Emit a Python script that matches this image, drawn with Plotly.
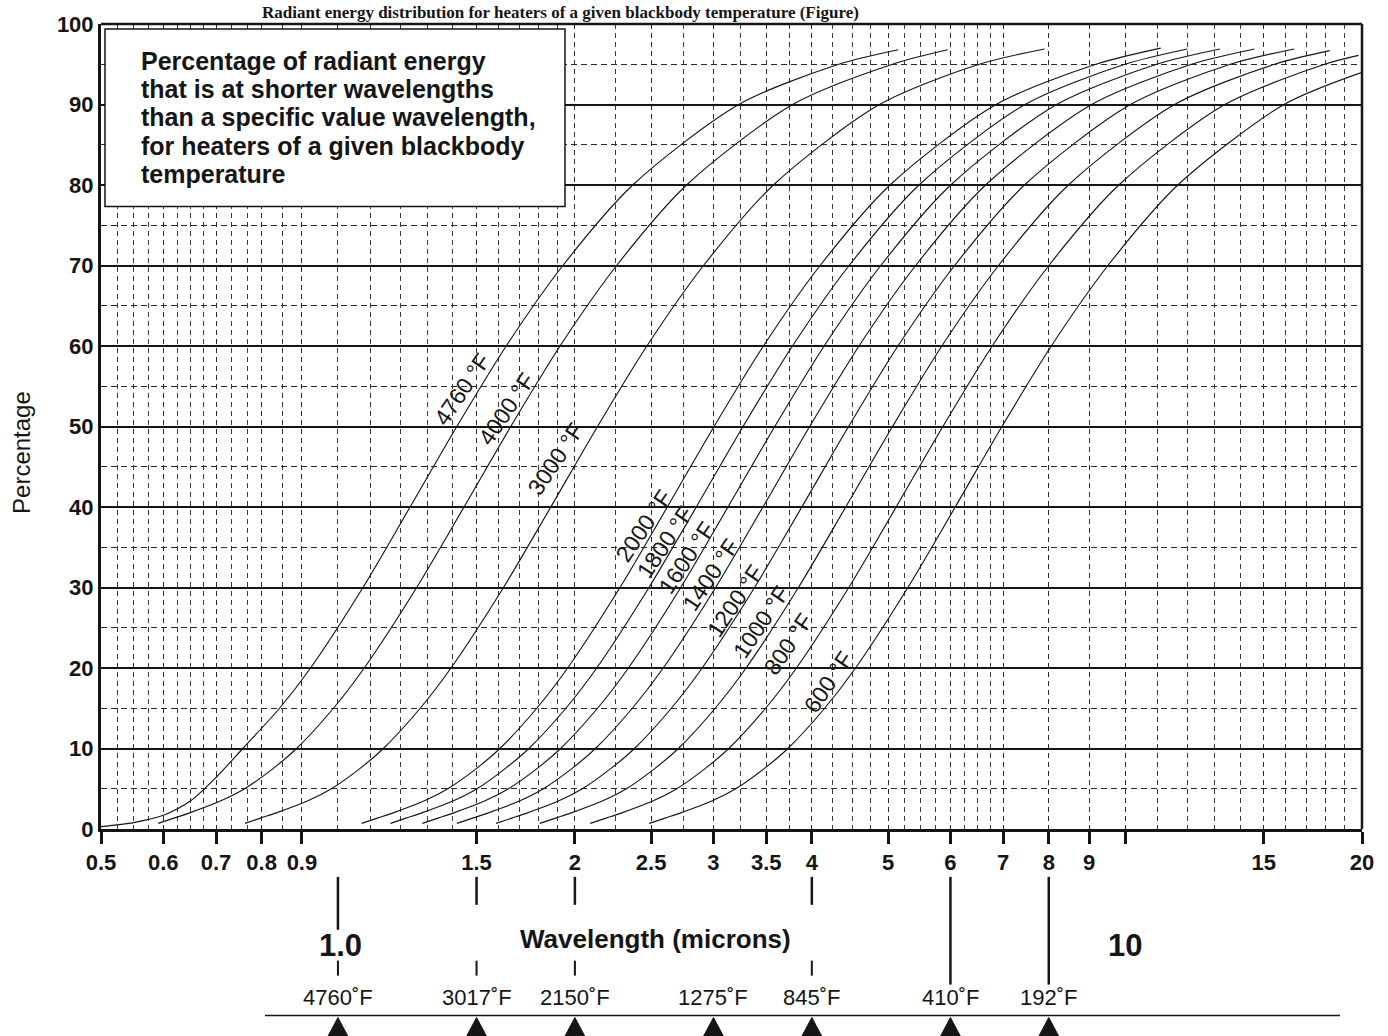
import math
import plotly.graph_objects as go

# ---------------- data ----------------
TEMPS = ["4760", "4000", "3000", "2000", "1800", "1600", "1400", "1200", "1000", "800", "600"]

PCT_4760 = [0.3, 0.8, 1.7, 3.5, 6.4, 10, 15, 20, 30, 40, 50, 60, 70, 80, 90, 95, 96.8]
WL_4760 = [0.50, 0.55, 0.60, 0.65, 0.70, 0.757, 0.843, 0.923, 1.076, 1.235, 1.416, 1.636, 1.931, 2.369, 3.231, 4.328, 5.15]

PCT_4000 = [0.7, 1.35, 2, 3.5, 5, 7.5, 10, 15, 20, 30, 40, 50, 60, 70, 80, 90, 95, 96.8]
WL_4000 = [0.591, 0.619, 0.648, 0.710, 0.761, 0.827, 0.886, 0.987, 1.080, 1.259, 1.446, 1.658, 1.915, 2.260, 2.773, 3.782, 5.065, 5.95]

PCT_3000 = [0.7, 1.35, 2, 3.5, 5, 7.5, 10, 15, 20, 30, 40, 50, 60, 70, 80, 90, 95, 96.9]
WL_3000 = [0.762, 0.797, 0.835, 0.916, 0.981, 1.066, 1.142, 1.272, 1.392, 1.623, 1.864, 2.137, 2.469, 2.914, 3.575, 4.875, 6.530, 7.9]

PCT_2000 = [0.7, 1.35, 2, 3.5, 5, 7.5, 10, 15, 20, 30, 40, 50, 60, 70, 80, 90, 95, 97.0]
WL_2000 = [1.072, 1.122, 1.175, 1.288, 1.379, 1.499, 1.606, 1.789, 1.958, 2.282, 2.621, 3.005, 3.472, 4.098, 5.028, 6.857, 9.184, 11.1]

PCT_1800 = [0.7, 1.35, 2, 3.5, 5, 7.5, 10, 15, 20, 30, 40, 50, 60, 70, 80, 90, 95, 96.9]
WL_1800 = [1.166, 1.220, 1.278, 1.402, 1.502, 1.631, 1.748, 1.948, 2.132, 2.484, 2.853, 3.271, 3.780, 4.461, 5.473, 7.464, 9.997, 12.0]

PCT_1600 = [0.7, 1.35, 2, 3.5, 5, 7.5, 10, 15, 20, 30, 40, 50, 60, 70, 80, 90, 95, 96.9]
WL_1600 = [1.280, 1.340, 1.403, 1.538, 1.647, 1.790, 1.918, 2.137, 2.339, 2.726, 3.130, 3.589, 4.147, 4.894, 6.005, 8.188, 10.97, 13.2]

PCT_1400 = [0.7, 1.35, 2, 3.5, 5, 7.5, 10, 15, 20, 30, 40, 50, 60, 70, 80, 90, 95, 96.9]
WL_1400 = [1.416, 1.483, 1.553, 1.703, 1.824, 1.982, 2.124, 2.366, 2.590, 3.019, 3.467, 3.975, 4.592, 5.420, 6.650, 9.069, 12.15, 14.6]

PCT_1200 = [0.7, 1.35, 2, 3.5, 5, 7.5, 10, 15, 20, 30, 40, 50, 60, 70, 80, 90, 95, 96.9]
WL_1200 = [1.588, 1.663, 1.741, 1.909, 2.044, 2.221, 2.381, 2.652, 2.902, 3.383, 3.885, 4.454, 5.146, 6.074, 7.452, 10.16, 13.61, 16.4]

PCT_1000 = [0.7, 1.35, 2, 3.5, 5, 7.5, 10, 15, 20, 30, 40, 50, 60, 70, 80, 90, 95, 96.7]
WL_1000 = [1.805, 1.890, 1.979, 2.170, 2.325, 2.526, 2.707, 3.015, 3.300, 3.846, 4.417, 5.065, 5.851, 6.906, 8.473, 11.56, 15.48, 18.2]

PCT_800 = [0.7, 1.35, 2, 3.5, 5, 7.5, 10, 15, 20, 30, 40, 50, 60, 70, 80, 90, 95, 96.1]
WL_800 = [2.092, 2.191, 2.294, 2.515, 2.694, 2.927, 3.137, 3.494, 3.824, 4.457, 5.119, 5.869, 6.781, 8.002, 9.819, 13.39, 17.93, 19.8]

PCT_600 = [0.7, 1.35, 2, 3.5, 5, 7.5, 10, 15, 20, 30, 40, 50, 60, 70, 80, 90, 94.0]
WL_600 = [2.486, 2.603, 2.726, 2.990, 3.202, 3.479, 3.729, 4.153, 4.546, 5.298, 6.085, 6.976, 8.060, 9.512, 11.67, 15.92, 20.0]

# curve label positions (wavelength, percent)
LABEL_WL = [1.44, 1.637, 1.89, 2.444, 2.606, 2.771, 2.973, 3.197, 3.45, 3.734, 4.197]
LABEL_PCT = [54.6, 52.2, 46.0, 37.7, 35.6, 33.7, 31.6, 28.3, 25.7, 23.0, 18.3]

# axis ticks
X_TICKS = [0.5, 0.6, 0.7, 0.8, 0.9, 1.5, 2, 2.5, 3, 3.5, 4, 5, 6, 7, 8, 9, 10, 15, 20]
X_TICKTEXT = ["0.5", "0.6", "0.7", "0.8", "0.9", "1.5", "2", "2.5", "3", "3.5", "4",
              "5", "6", "7", "8", "9", "", "15", "20"]
X_MINOR = [0.525, 0.55, 0.575, 0.625, 0.65, 0.675, 0.733, 0.767, 0.85, 1.0, 1.1, 1.2,
           1.3, 1.4, 1.6, 1.7, 1.8, 1.9, 2.25, 2.75, 3.25, 3.75, 4.25, 4.5, 4.75, 5.25,
           5.5, 5.75, 6.25, 6.5, 6.75, 11, 12, 13, 14, 16, 17, 18, 19]
Y_TICKS = [0, 10, 20, 30, 40, 50, 60, 70, 80, 90, 100]
Y_MINOR = [5, 15, 25, 35, 45, 55, 65, 75, 85, 95]

# Wien-peak markers under the axis
MARK_WL = [1.0, 1.5, 2.0, 3.0, 4.0, 6.0, 8.0]
MARK_TEMP = ["4760˚F", "3017˚F", "2150˚F", "1275˚F", "845˚F", "410˚F", "192˚F"]

BOX_LINES = ["Percentage of radiant energy",
             "that is at shorter wavelengths",
             "than a specific value wavelength,",
             "for heaters of a given blackbody",
             "temperature"]

TITLE = "Radiant energy distribution for heaters of a given blackbody temperature (Figure)"

# ---------------- figure ----------------
W, H = 1388, 1036
ML, MR, MT, MB = 101, 26, 22, 207
PW, PH = W - ML - MR, H - MT - MB
LX0, LX1 = math.log10(0.5), math.log10(20)
FONT = "Liberation Sans, Arial, Helvetica, sans-serif"
INK = "#151515"


def xp(wl):
    return (math.log10(wl) - LX0) / (LX1 - LX0)


def ypx(py):
    return (H - MB - py) / PH


def xpx(px):
    return (px - ML) / PW


curves = [WL_4760, WL_4000, WL_3000, WL_2000, WL_1800, WL_1600, WL_1400, WL_1200, WL_1000, WL_800, WL_600]
pcts = [PCT_4760, PCT_4000, PCT_3000, PCT_2000, PCT_1800, PCT_1600, PCT_1400, PCT_1200, PCT_1000, PCT_800, PCT_600]

fig = go.Figure()
for name, wl, pc in zip(TEMPS, curves, pcts):
    fig.add_trace(go.Scatter(x=wl, y=pc, mode="lines", name=name + "°F",
                             line=dict(color=INK, width=1.15, shape="spline", smoothing=0.8),
                             hoverinfo="skip", showlegend=False))

ann = []
for name, lw, lp in zip(TEMPS, LABEL_WL, LABEL_PCT):
    ann.append(dict(x=math.log10(lw), y=lp, xref="x", yref="y", text=name + " °F",
                    showarrow=False, textangle=-56, xanchor="center", yanchor="middle",
                    font=dict(family=FONT, size=23, color=INK)))

# text box
shapes = [dict(type="rect", xref="paper", yref="paper", x0=xpx(105), x1=xpx(565),
               y0=ypx(205), y1=ypx(27), fillcolor="white",
               line=dict(color=INK, width=1.5), layer="above")]
for i, t in enumerate(BOX_LINES):
    ann.append(dict(x=xpx(139), y=ypx(59 + i * 28.3), xref="paper", yref="paper",
                    xanchor="left", yanchor="middle", text=t, showarrow=False,
                    font=dict(family=FONT, size=25, color=INK, weight="bold")))

# frame top / right
shapes.append(dict(type="line", xref="paper", yref="paper", x0=0, x1=1, y0=1, y1=1,
                   line=dict(color=INK, width=2.5), layer="above"))
shapes.append(dict(type="line", xref="paper", yref="paper", x0=1, x1=1, y0=0, y1=1,
                   line=dict(color=INK, width=2.5), layer="above"))

# marker lines under the axis
long_to = {1.0: 930, 6.0: 985, 8.0: 985}
for wl, tt in zip(MARK_WL, MARK_TEMP):
    x = xp(wl)
    if wl != 3.0:
        shapes.append(dict(type="line", xref="paper", yref="paper", x0=x, x1=x,
                           y0=ypx(877), y1=ypx(long_to.get(wl, 905)),
                           line=dict(color=INK, width=2.5)))
    if wl in (1.0, 1.5, 2.0, 4.0):
        shapes.append(dict(type="line", xref="paper", yref="paper", x0=x, x1=x,
                           y0=ypx(961), y1=ypx(976), line=dict(color=INK, width=2)))
    ann.append(dict(x=x, y=ypx(998), xref="paper", yref="paper", text=tt, showarrow=False,
                    xanchor="center", yanchor="middle",
                    font=dict(family=FONT, size=22, color=INK)))
    hw = 17 / PW
    shapes.append(dict(type="path", xref="paper", yref="paper",
                       path=f"M {x - hw} {ypx(1050)} L {x} {ypx(1018)} L {x + hw} {ypx(1050)} Z",
                       fillcolor=INK, line=dict(color=INK, width=1)))

shapes.append(dict(type="line", xref="paper", yref="paper", x0=xpx(265), x1=xpx(1340),
                   y0=ypx(1016), y1=ypx(1016), line=dict(color=INK, width=1.5)))

ann.append(dict(x=xpx(340), y=ypx(946), xref="paper", yref="paper", text="<b>1.0</b>",
                xanchor="center", yanchor="middle",
                showarrow=False, font=dict(family=FONT, size=31, color=INK)))
ann.append(dict(x=xp(10.0), y=ypx(946), xref="paper", yref="paper", text="<b>10</b>",
                xanchor="center", yanchor="middle",
                showarrow=False, font=dict(family=FONT, size=31, color=INK)))
ann.append(dict(x=xpx(655), y=ypx(939), xref="paper", yref="paper",
                text="<b>Wavelength (microns)</b>", showarrow=False,
                xanchor="center", yanchor="middle",
                font=dict(family=FONT, size=26, color=INK)))
ann.append(dict(x=xpx(22), y=ypx(452), xref="paper", yref="paper", text="Percentage",
                xanchor="center", yanchor="middle",
                textangle=-90, showarrow=False, font=dict(family=FONT, size=24, color=INK)))
# figure title squeezed into the top band
ann.append(dict(x=xpx(560), y=ypx(10), xref="paper", yref="paper", xanchor="center",
                yanchor="middle", text="<b>" + TITLE + "</b>", showarrow=False,
                font=dict(family="Liberation Serif, Times New Roman, serif", size=17, color=INK)))

fig.update_layout(
    width=W, height=H, margin=dict(l=ML, r=MR, t=MT, b=MB),
    paper_bgcolor="white", plot_bgcolor="white", showlegend=False,
    font=dict(family=FONT, color=INK),
    annotations=ann, shapes=shapes,
)
fig.update_xaxes(
    type="log", range=[LX0, LX1], tickvals=X_TICKS, ticktext=X_TICKTEXT,
    ticks="outside", ticklen=12, tickwidth=3, tickcolor=INK,
    tickfont=dict(family=FONT, size=22, color=INK, weight="bold"),
    showline=True, linewidth=3, linecolor=INK, zeroline=False,
    showgrid=True, gridcolor="#2a2a2a", gridwidth=1, griddash="5px,4px",
    minor=dict(tickvals=X_MINOR, showgrid=True, gridcolor="#3a3a3a", gridwidth=1,
               griddash="5px,4px", ticks=""),
)
fig.update_yaxes(
    range=[0, 100], tickvals=Y_TICKS, ticks="",
    tickfont=dict(family=FONT, size=22, color=INK, weight="bold"),
    showline=True, linewidth=3, linecolor=INK, zeroline=False,
    showgrid=True, gridcolor=INK, gridwidth=1.5,
    minor=dict(tickvals=Y_MINOR, showgrid=True, gridcolor="#2a2a2a", gridwidth=1,
               griddash="6px,4px", ticks=""),
)

fig.write_html("out.html")
